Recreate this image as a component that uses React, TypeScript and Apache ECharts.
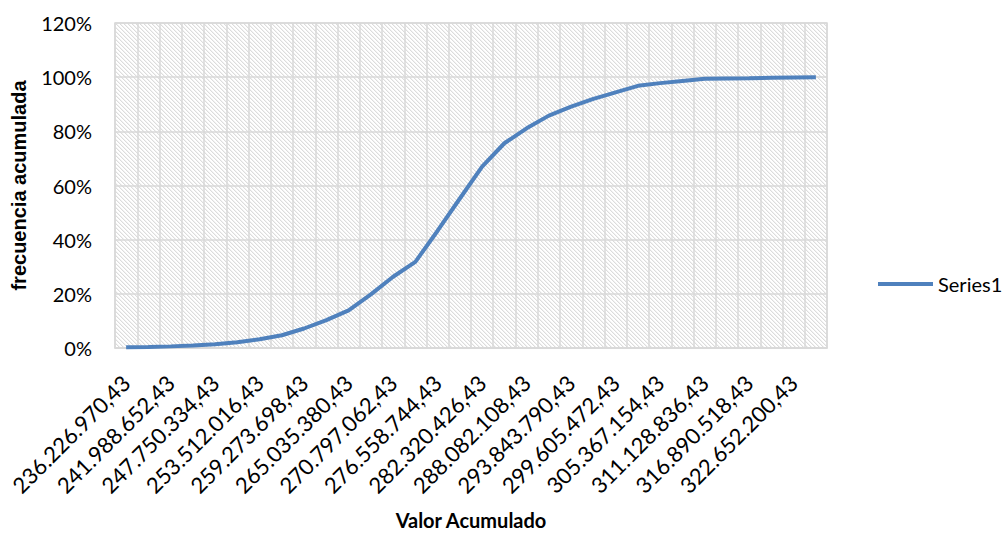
import React, { useEffect, useRef } from "react";
import * as echarts from "echarts";

const categories: string[] = [
  "236.226.970,43", "239.107.811,43", "241.988.652,43", "244.869.493,43",
  "247.750.334,43", "250.631.175,43", "253.512.016,43", "256.392.857,43",
  "259.273.698,43", "262.154.539,43", "265.035.380,43", "267.916.221,43",
  "270.797.062,43", "273.677.903,43", "276.558.744,43", "279.439.585,43",
  "282.320.426,43", "285.201.267,43", "288.082.108,43", "290.962.949,43",
  "293.843.790,43", "296.724.631,43", "299.605.472,43", "302.486.313,43",
  "305.367.154,43", "308.247.995,43", "311.128.836,43", "314.009.677,43",
  "316.890.518,43", "319.771.359,43", "322.652.200,43", "325.533.041,43",
];

const series1: number[] = [
  0.003, 0.004, 0.006, 0.009, 0.014, 0.021, 0.032, 0.047,
  0.072, 0.103, 0.139, 0.198, 0.263, 0.318, 0.433, 0.552,
  0.67, 0.756, 0.811, 0.858, 0.891, 0.92, 0.944, 0.968,
  0.978, 0.986, 0.994, 0.995, 0.996, 0.998, 0.999, 1.0,
];

const seriesName = "Series1";
const xTitle = "Valor Acumulado";
const yTitle = "frecuencia acumulada";

function makePattern(): HTMLCanvasElement {
  const c = document.createElement("canvas");
  c.width = 4;
  c.height = 4;
  const ctx = c.getContext("2d")!;
  ctx.fillStyle = "#ffffff";
  ctx.fillRect(0, 0, 4, 4);
  for (let i = 0; i < 4; i++) {
    ctx.fillStyle = "#dcdcdc";
    ctx.fillRect(i, i, 1, 1);
    ctx.fillStyle = "#f2f2f2";
    ctx.fillRect((i + 1) % 4, i, 1, 1);
  }
  return c;
}

export default function App() {
  const ref = useRef<HTMLDivElement>(null);
  useEffect(() => {
    if (!ref.current) return;
    const chart = echarts.init(ref.current, undefined, { renderer: "svg" });
    const pattern = { image: makePattern(), repeat: "repeat" };
    chart.setOption({
      animation: false,
      backgroundColor: "#ffffff",
      textStyle: { fontFamily: "Lato" },
      grid: {
        left: 115,
        right: 176,
        top: 23,
        bottom: 185,
        outerBoundsMode: "none",
        containLabel: false,
        show: true,
        backgroundColor: pattern as any,
        borderColor: "#d9d9d9",
        borderWidth: 1.5,
      },
      legend: {
        left: 873,
        top: 269,
        icon: "rect",
        itemWidth: 55,
        itemHeight: 4,
        itemGap: 4,
        textStyle: { fontFamily: "Lato", fontSize: 20, color: "#000" },
        data: [seriesName],
      },
      xAxis: {
        type: "category",
        data: categories,
        boundaryGap: true,
        name: xTitle,
        nameLocation: "middle",
        nameGap: 162,
        nameTextStyle: { fontFamily: "Lato", fontWeight: "bold", fontSize: 20, color: "#000" },
        axisLine: { show: true, lineStyle: { color: "#d9d9d9", width: 1.5 } },
        axisTick: { show: false },
        axisLabel: {
          interval: 1,
          rotate: 45,
          margin: 31,
          fontFamily: "Lato",
          fontSize: 22,
          color: "#000",
        },
        splitLine: { show: true, interval: 0, lineStyle: { color: "#d9d9d9", width: 1.5 } },
      },
      yAxis: {
        type: "value",
        min: 0,
        max: 1.2,
        interval: 0.2,
        name: yTitle,
        nameLocation: "middle",
        nameGap: 86,
        nameTextStyle: { fontFamily: "Liberation Sans", fontWeight: "bold", fontSize: 20, color: "#000" },
        axisLine: { show: false },
        axisTick: { show: false },
        axisLabel: {
          margin: 23,
          fontFamily: "Lato",
          fontSize: 20,
          color: "#000",
          formatter: (v: number) => Math.round(v * 100) + "%",
        },
        splitLine: { show: true, lineStyle: { color: "#d9d9d9", width: 1.5 } },
      },
      series: [
        {
          name: seriesName,
          type: "line",
          data: series1,
          symbol: "none",
          smooth: false,
          lineStyle: { color: "#4f81bd", width: 4 },
          itemStyle: { color: "#4f81bd" },
        },
      ],
    });
    return () => chart.dispose();
  }, []);
  return <div ref={ref} style={{ width: 1003, height: 533, position: "absolute", left: 0, top: 0 }} />;
}
